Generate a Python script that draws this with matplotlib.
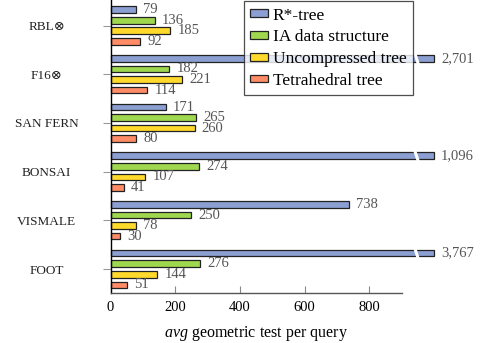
import matplotlib
matplotlib.use("Agg")
import matplotlib.pyplot as plt

# data
datasets = ["RBL⊗", "F16⊗", "SAN FERN", "BONSAI", "VISMALE", "FOOT"]
series = ["R*-tree", "IA data structure", "Uncompressed tree", "Tetrahedral tree"]
rstar = [79, 2701, 171, 1096, 738, 3767]
ia = [136, 182, 265, 274, 250, 276]
uncompressed = [185, 221, 260, 107, 78, 144]
tetra = [92, 114, 80, 41, 30, 51]
values = [rstar, ia, uncompressed, tetra]

colors = ["#8c9fd2", "#9fd84e", "#ffd92c", "#ff8c66"]
offsets = [-0.325, -0.108, 0.108, 0.325]
bar_h = 0.135
xmax = 900
clip_at = 1000

fonts = ["Liberation Serif", "DejaVu Serif"]
plt.rcParams["font.family"] = fonts
plt.rcParams["mathtext.fontset"] = "custom"
plt.rcParams["mathtext.rm"] = "Liberation Serif"
plt.rcParams["mathtext.it"] = "Liberation Serif:italic"

fig = plt.figure(figsize=(4.85, 3.43), dpi=100)
ax = fig.add_axes([0.228, 0.1466, 0.6, 0.8534])

for vals, col, off, name in zip(values, colors, offsets, series):
    for i, v in enumerate(vals):
        w = min(v, clip_at)
        y = i + off
        ax.barh(y, w, height=bar_h, color=col, edgecolor="#222222",
                linewidth=0.9, clip_on=False,
                label=name if i == 0 else None)
        if v > xmax:
            # break mark on bars that run off the axis
            xb = 946
            ax.plot([xb - 5, xb + 5], [y - bar_h * 0.75, y + bar_h * 0.75],
                    color="white", lw=2.2, clip_on=False, zorder=5)
        ax.text(w + 22, y, f"{v:,}", va="center", ha="left",
                fontsize=10.5, color="#555555", clip_on=False)

ax.set_xlim(0, xmax)
ax.set_ylim(5.487, -0.524)
ax.set_xticks([0, 200, 400, 600, 800])
ax.set_yticks(range(len(datasets)))
ax.set_yticklabels([d.upper() for d in datasets], fontsize=9.5,
                   color="#222222", ha="center")
ax.tick_params(axis="x", direction="in", length=5, color="#888888",
               labelsize=10.5, pad=6)
ax.tick_params(axis="y", direction="out", length=6, color="#999999", pad=40)
for s in ["top", "right"]:
    ax.spines[s].set_visible(False)
ax.spines["left"].set_linewidth(1.0)
ax.spines["bottom"].set_linewidth(1.0)
ax.spines["bottom"].set_color("#555555")

ax.set_xlabel("$\\mathit{avg}$ geometric test per query", fontsize=11.5, labelpad=7)

leg = ax.legend(loc="upper left", bbox_to_anchor=(0.459, 0.995), fontsize=12.5,
                frameon=True, fancybox=False, edgecolor="#222222",
                handlelength=1.05, handleheight=0.3, handletextpad=0.25,
                labelspacing=0.33, borderpad=0.35, borderaxespad=0.0)
leg.get_frame().set_linewidth(0.9)

fig.savefig("out.png", dpi=100)
